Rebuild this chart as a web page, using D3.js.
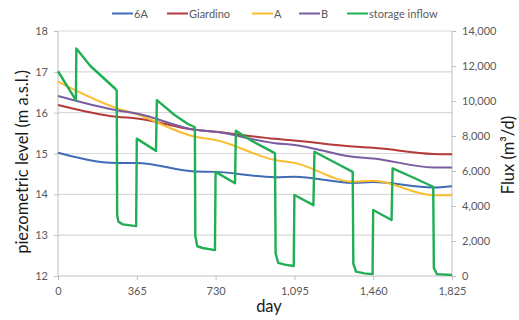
<!DOCTYPE html>
<html><head><meta charset="utf-8">
<script src="https://cdn.jsdelivr.net/npm/d3@7"></script>
<style>body{margin:0;background:#fff}svg{display:block}text{font-family:Lato,"Open Sans",sans-serif}</style>
</head><body><svg id="c" width="519" height="320"></svg>
<script>
// Data
const days = [0, 365, 730, 1095, 1460, 1825];
const leftTicks = [12, 13, 14, 15, 16, 17, 18];
const rightTicks = [0, 2000, 4000, 6000, 8000, 10000, 12000, 14000];
const seriesNames = ["6A", "Giardino", "A", "B", "storage inflow"];
const levelDays = [0, 272, 365, 634, 730, 1005, 1095, 1365, 1460, 1738, 1825];
const level6A = [15.02, 14.77, 14.77, 14.56, 14.55, 14.42, 14.43, 14.28, 14.30, 14.17, 14.20];
const levelGiardino = [16.19, 15.90, 15.86, 15.58, 15.53, 15.36, 15.32, 15.17, 15.14, 14.99, 14.98];
const levelA = [16.76, 16.11, 15.96, 15.41, 15.33, 14.84, 14.77, 14.31, 14.33, 13.98, 13.98];
const levelB = [16.41, 16.06, 15.98, 15.58, 15.53, 15.25, 15.21, 14.92, 14.88, 14.66, 14.66];
const inflowDays = [0, 40, 83, 85, 150, 230, 265, 272, 274, 280, 300, 362, 365, 454, 458, 540, 600, 634, 636, 645, 670, 727, 730, 820, 824, 900, 1000, 1005, 1008, 1020, 1050, 1092, 1095, 1183, 1188, 1280, 1365, 1368, 1380, 1420, 1457, 1460, 1545, 1550, 1650, 1738, 1741, 1755, 1825];
const inflow = [11700, 10900, 10050, 13000, 12000, 11100, 10700, 10600, 3500, 3100, 2950, 2850, 7850, 7150, 10050, 9200, 8700, 8500, 2300, 1700, 1600, 1480, 5950, 5300, 8300, 7700, 7050, 7000, 1300, 750, 650, 570, 4630, 4050, 7100, 6500, 5950, 700, 250, 150, 110, 3770, 3200, 6150, 5600, 5100, 450, 110, 60];

const colors = ["#3f6cb4", "#b43a3a", "#fbbd2e", "#7b5ca2", "#21ae55"];

const svg = d3.select("#c");
const L = 58, R = 452, T = 31, B = 276;
const x = d3.scaleLinear().domain([0, 1825]).range([L, R]);
const yL = d3.scaleLinear().domain([12, 18]).range([B, T]);
const yR = d3.scaleLinear().domain([0, 14000]).range([B, T]);

// gridlines
svg.append("g").selectAll("line").data(leftTicks.slice(1)).join("line")
  .attr("x1", L).attr("x2", R).attr("y1", d => yL(d)).attr("y2", d => yL(d))
  .attr("stroke", "#d9d9d9").attr("stroke-width", 1.2);

const fmtNum = d3.format(",");
// left axis
const gL = svg.append("g").attr("transform", `translate(${L},0)`)
  .call(d3.axisLeft(yL).tickValues(leftTicks).tickSize(4).tickPadding(6).tickFormat(d3.format("d")));
// right axis
const gR = svg.append("g").attr("transform", `translate(${R},0)`)
  .call(d3.axisRight(yR).tickValues(rightTicks).tickSize(4).tickPadding(6).tickFormat(fmtNum));
// bottom axis
const gB = svg.append("g").attr("transform", `translate(0,${B})`)
  .call(d3.axisBottom(x).tickValues(days).tickSize(4).tickPadding(7).tickFormat(fmtNum));
[gL, gR, gB].forEach(g => {
  g.selectAll("path,line").attr("stroke", "#bfbfbf").attr("stroke-width", 1);
  g.selectAll("text").attr("fill", "#595959").style("font-size", "11px").style("font-family", "Lato, sans-serif");
});
gL.select(".domain").attr("d", `M0,${T}V${B}`);
gR.select(".domain").attr("d", `M0,${T}V${B}`);
gB.select(".domain").attr("d", `M${L},0H${R}`);

// lines
const levels = [level6A, levelGiardino, levelA, levelB];
const lineL = d3.line().x(d => x(d[0])).y(d => yL(d[1])).curve(d3.curveMonotoneX);
levels.forEach((arr, i) => {
  svg.append("path").datum(levelDays.map((d, j) => [d, arr[j]]))
    .attr("d", lineL).attr("fill", "none").attr("stroke", colors[i]).attr("stroke-width", 2);
});
const lineR = d3.line().x(d => x(d[0])).y(d => yR(d[1])).curve(d3.curveLinear);
svg.append("path").datum(inflowDays.map((d, j) => [d, inflow[j]]))
  .attr("d", lineR).attr("fill", "none").attr("stroke", colors[4]).attr("stroke-width", 2.4)
  .attr("stroke-linejoin", "round");

// legend
const legX = [112, 167, 252, 299, 347];
seriesNames.forEach((n, i) => {
  svg.append("line").attr("x1", legX[i]).attr("x2", legX[i] + 21).attr("y1", 13.5).attr("y2", 13.5)
    .attr("stroke", colors[i]).attr("stroke-width", 2);
  svg.append("text").attr("x", legX[i] + 22).attr("y", 17.5).text(n)
    .attr("fill", "#595959").style("font-size", "11px");
});

// titles
svg.append("text").attr("transform", "translate(28,162) rotate(-90)").attr("text-anchor", "middle")
  .style("font-size", "16.5px").attr("fill", "#1a1a1a").text("piezometric level (m a.s.l.)");
svg.append("text").attr("transform", "translate(514,155) rotate(-90)").attr("text-anchor", "middle")
  .style("font-size", "16.5px").attr("fill", "#1a1a1a").text("Flux (m³/d)");
svg.append("text").attr("x", 269).attr("y", 312).attr("text-anchor", "middle")
  .style("font-size", "16.5px").attr("fill", "#1a1a1a").text("day");
</script></body></html>
